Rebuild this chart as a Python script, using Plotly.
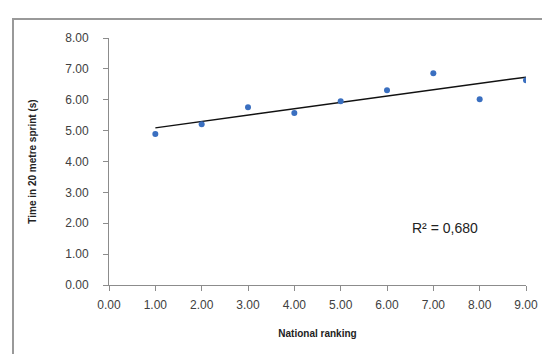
import numpy as np
import plotly.graph_objects as go

ranking = [1, 2, 3, 4, 5, 6, 7, 8, 9]
sprint_time = [4.89, 5.21, 5.76, 5.57, 5.95, 6.31, 6.86, 6.02, 6.63]
x_ticks = [0, 1, 2, 3, 4, 5, 6, 7, 8, 9]
y_ticks = [0, 1, 2, 3, 4, 5, 6, 7, 8]
r2_label = "R² = 0,680"

slope, intercept = np.polyfit(ranking, sprint_time, 1)
trend_x = [ranking[0], ranking[-1]]
trend_y = [slope * v + intercept for v in trend_x]

fig = go.Figure()
fig.add_trace(go.Scatter(x=trend_x, y=trend_y, mode="lines",
                         line=dict(color="#111111", width=1.5), showlegend=False))
fig.add_trace(go.Scatter(x=ranking, y=sprint_time, mode="markers",
                         marker=dict(symbol="circle", size=6, color="#3a6fc0"),
                         showlegend=False))

L, R, T, B = 101, 518, 30, 277
W, H = 550, 354
def px(x):
    return (x - L) / (R - L)
def py(y):
    return (B - y) / (B - T)

font = "Liberation Sans, Arial, sans-serif"
fig.update_layout(
    width=W, height=H,
    margin=dict(l=L, r=W - R, t=T, b=H - B, pad=0),
    paper_bgcolor="white", plot_bgcolor="white",
    font=dict(family=font, size=12, color="#404040"),
    xaxis=dict(range=[0, 9], tickvals=x_ticks, tickformat=".2f",
               showgrid=False, zeroline=False, showline=True,
               linecolor="#8c8c8c", linewidth=1, ticks="outside",
               tickcolor="#8c8c8c", ticklen=5, ticklabelstandoff=4,
               title=dict(text="<b>National ranking</b>",
                          font=dict(size=10, color="#222"), standoff=18)),
    yaxis=dict(range=[0, 8], tickvals=y_ticks, tickformat=".2f",
               showgrid=False, zeroline=False, showline=True,
               linecolor="#8c8c8c", linewidth=1, ticks="outside",
               tickcolor="#8c8c8c", ticklen=5, ticklabelstandoff=12,
               title=dict(text="<b>Time in 20 metre sprint (s)</b>",
                          font=dict(size=10, color="#222"), standoff=26)),
    shapes=[
        dict(type="line", xref="paper", yref="paper",
             x0=px(5), x1=px(5), y0=py(11), y1=py(356),
             line=dict(color="#999999", width=2)),
        dict(type="line", xref="paper", yref="paper",
             x0=px(4), x1=px(552), y0=py(11), y1=py(11),
             line=dict(color="#999999", width=2)),
    ],
    annotations=[
        dict(text=r2_label, xref="paper", yref="paper",
             x=px(472), y=py(230), showarrow=False,
             font=dict(size=14, color="#222", family=font)),
    ],
)

fig.write_html("out.html")
